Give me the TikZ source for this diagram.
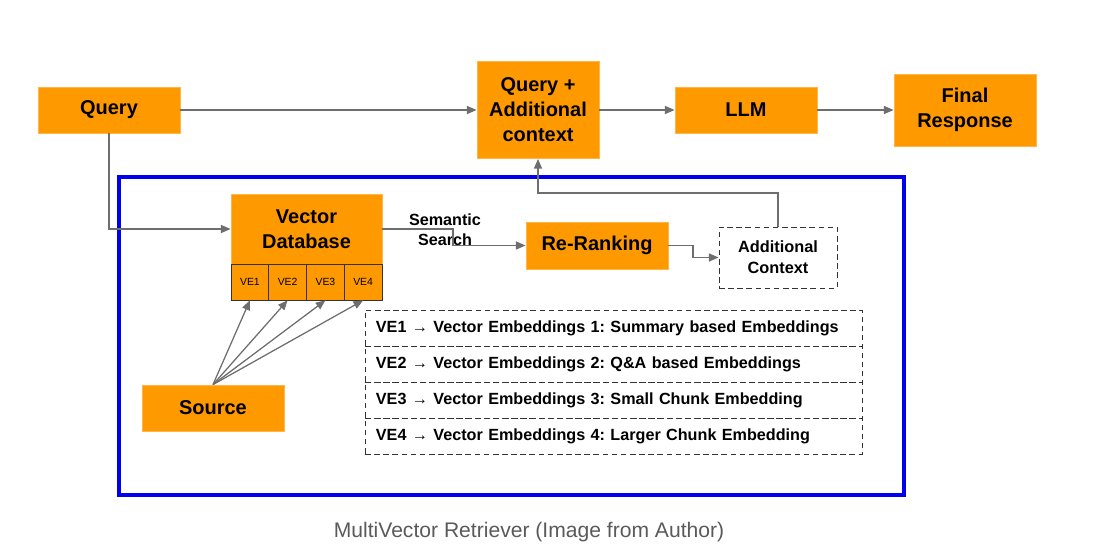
\documentclass[tikz,border=0pt]{standalone}
\usepackage{fontspec}
\setmainfont{Liberation Sans}
\usepackage{tikz}
\usetikzlibrary{positioning, arrows.meta}
\definecolor{boxorange}{HTML}{FF9900}
\definecolor{edgeorange}{HTML}{FFB547}
\definecolor{linegray}{HTML}{6E6E6E}
\definecolor{frameblue}{HTML}{0000EE}
\definecolor{captiongray}{HTML}{5A5A5A}
\frenchspacing

\begin{document}
\begin{tikzpicture}[
  x=0.025cm, y=-0.025cm,
  block/.style={rectangle, fill=boxorange, draw=edgeorange, line width=0.6pt, align=center,
    font=\bfseries\fontsize{14.2}{17.8}\selectfont, inner sep=0pt,
    minimum width=3.55cm, minimum height=1.15cm},
  cell/.style={rectangle, fill=boxorange, draw=black!80, line width=0.5pt, inner sep=0pt,
    minimum width=0.944cm, minimum height=0.9cm, font=\fontsize{7.4}{8}\selectfont},
  legend/.style={rectangle, draw=black!80, dash pattern=on 4pt off 2.5pt, line width=0.6pt,
    inner xsep=0.275cm, inner ysep=0pt, text width=11.875cm, minimum height=0.9cm,
    align=left, font=\bfseries\fontsize{11.5}{14}\selectfont},
  link/.style={draw=linegray, line width=0.9pt, -{Triangle[length=2.4mm,width=2mm]}}
]
\useasboundingbox (0,0) rectangle (1117,558);

% top row
\node[block] (query) at (109,110) {Query};
\node[block, minimum width=3.05cm, minimum height=2.425cm] (qctx) at (538,110) {Query +\\Additional\\context};
\node[block] (llm) at (746,110) {LLM};
\node[block, minimum height=1.8cm] (final) at (965,110) {Final\\Response};

% retriever frame
\draw[frameblue, line width=2.2pt] (119,177) rectangle (904,495);

\node[block, minimum width=3.775cm, minimum height=1.75cm] (vdb) at (306.5,229) {Vector\\Database};
\foreach \i/\x in {1/249.9, 2/287.6, 3/325.4, 4/363.1}
  \node[cell] (ve\i) at (\x,282) {VE\i};

\node[font=\bfseries\fontsize{11.5}{14.2}\selectfont, align=center, inner sep=0pt] (semlbl) at (445,230) {Semantic\\Search};
\node[block, minimum height=1.175cm] (rerank) at (597,245.5) {Re-Ranking};
\node[rectangle, draw=black!80, dash pattern=on 4pt off 2.5pt, line width=0.6pt, inner sep=0pt,
  minimum width=2.95cm, minimum height=1.525cm, align=center,
  font=\bfseries\fontsize{11.6}{15}\selectfont] (addctx) at (778,257.5) {Additional\\Context};

\node[block] (source) at (213,408) {Source};

% legend
\node[legend] (leg1) at (613.5,328) {VE1 → Vector Embeddings 1: Summary based Embeddings};
\node[legend] (leg2) at (613.5,364) {VE2 → Vector Embeddings 2: Q\&A based Embeddings};
\node[legend] (leg3) at (613.5,400) {VE3 → Vector Embeddings 3: Small Chunk Embedding};
\node[legend] (leg4) at (613.5,436) {VE4 → Vector Embeddings 4: Larger Chunk Embedding};

% connectors
\coordinate (bend1) at (453,229);
\coordinate (bend2) at (693,245.5);
\coordinate (bend3) at (538,193);
\draw[link] (query) -- (qctx);
\draw[link] (qctx) -- (llm);
\draw[link] (llm) -- (final);
\draw[link] (query.south) |- (vdb.west);
\draw[link] (vdb.east) -- (bend1) |- (rerank.west);
\draw[link] (rerank.east) -- (bend2) |- (addctx.west);
\draw[link] (addctx.north) |- (bend3) -- (qctx.south);
\foreach \i in {1,...,4}
  \draw[link] (source.north) -- (ve\i.south);

\node[text=captiongray, font=\fontsize{15}{18}\selectfont] (caption) at (529,532) {MultiVector Retriever (Image from Author)};
\end{tikzpicture}
\end{document}
